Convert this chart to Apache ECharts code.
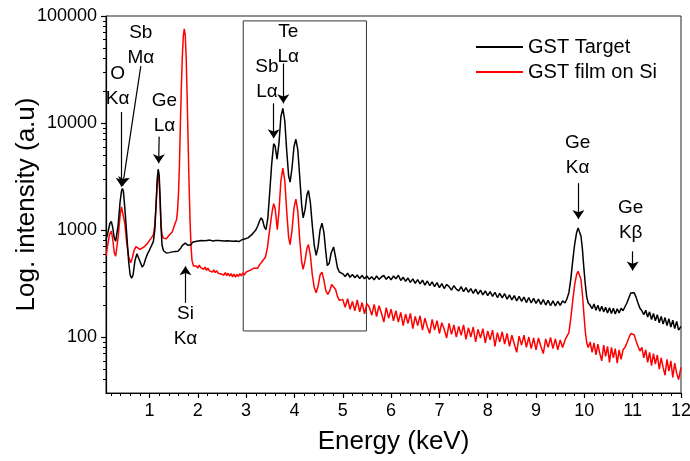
<!DOCTYPE html>
<html>
<head>
<meta charset="utf-8">
<script src="https://cdn.jsdelivr.net/npm/echarts@6/dist/echarts.min.js"></script>
<style>
html,body{margin:0;padding:0;background:#fff}
#chart{width:690px;height:461px}
</style>
</head>
<body>
<div id="chart"></div>
<script>
var FONT = 'Liberation Sans, Arial, sans-serif';

// tick labels
var xTicks = [1, 2, 3, 4, 5, 6, 7, 8, 9, 10, 11, 12];
var yTicks = [100, 1000, 10000, 100000];

// GST Target (black), [keV, counts]
var gstTarget = [
  [0.10,810],[0.14,950],[0.18,1150],[0.21,1205],[0.24,1050],[0.27,850],[0.30,785],[0.35,1100],[0.39,1800],
  [0.42,2300],[0.44,2450],[0.46,2300],[0.49,1600],[0.53,900],[0.57,500],[0.60,380],[0.63,355],[0.66,380],
  [0.70,520],[0.74,600],[0.77,580],[0.81,500],[0.85,450],[0.88,470],[0.92,540],[0.96,600],[1.00,650],
  [1.04,670],[1.08,780],[1.11,1000],[1.14,1900],[1.16,3000],[1.18,3700],[1.20,3300],[1.22,2000],[1.24,1050],
  [1.26,720],[1.29,640],[1.32,620],[1.35,610],[1.38,635],[1.41,615],[1.44,640],[1.47,625],[1.50,650],
  [1.53,630],[1.56,645],[1.59,635],[1.62,660],[1.65,680],[1.68,720],[1.71,735],[1.74,755],[1.77,745],
  [1.80,720],[1.83,705],[1.86,730],[1.89,770],[1.92,795],[1.95,780],[1.98,805],[2.01,790],[2.04,815],
  [2.07,800],[2.10,820],[2.13,795],[2.16,810],[2.19,800],[2.22,825],[2.25,805],[2.28,815],[2.31,790],
  [2.34,810],[2.37,800],[2.40,825],[2.43,800],[2.46,815],[2.49,795],[2.52,810],[2.55,790],[2.58,805],
  [2.61,795],[2.64,810],[2.67,790],[2.70,800],[2.73,785],[2.76,805],[2.79,790],[2.82,800],[2.85,780],
  [2.88,795],[2.91,810],[2.94,800],[2.97,825],[3.00,820],
  [3.04,845],[3.08,880],[3.12,910],[3.16,950],[3.20,1000],[3.24,1090],[3.28,1220],[3.31,1300],[3.34,1240],
  [3.38,1060],[3.41,1010],[3.45,1300],[3.49,2300],[3.53,4200],[3.57,6400],[3.60,6100],[3.64,4600],[3.68,6500],
  [3.72,11500],[3.76,13700],[3.80,10500],[3.84,5500],[3.88,3200],[3.91,2800],[3.95,3800],[3.99,6000],
  [4.03,7050],[4.07,5600],[4.11,3100],[4.15,1700],[4.18,1300],[4.22,1550],[4.26,2150],[4.29,2340],
  [4.33,1800],[4.37,1100],[4.41,720],[4.45,580],[4.49,700],[4.53,1000],[4.57,1160],[4.61,950],[4.65,620],
  [4.68,465],[4.72,490],[4.76,610],[4.81,695],[4.85,560],[4.89,445],[4.93,405],[4.97,395],
  [5.00,390],[5.05,368],[5.10,395],[5.15,362],[5.20,384],[5.25,358],[5.30,380],[5.35,352],[5.40,376],
  [5.45,350],[5.50,372],[5.55,346],[5.60,366],[5.65,342],[5.70,372],[5.75,346],[5.80,364],[5.85,376],
  [5.90,346],[5.95,368],[6.00,342],[6.05,372],[6.10,350],[6.15,378],[6.20,338],[6.25,362],[6.30,332],
  [6.35,356],[6.40,324],[6.45,350],[6.50,318],[6.55,344],[6.60,314],[6.65,340],[6.70,306],[6.75,334],
  [6.80,302],[6.85,328],[6.90,296],[6.95,322],[7.00,290],[7.05,316],[7.10,284],[7.15,310],[7.20,296],
  [7.25,274],[7.30,302],[7.35,280],[7.40,270],[7.45,296],[7.50,266],[7.55,290],[7.60,262],[7.65,284],
  [7.70,256],[7.75,280],[7.80,252],[7.85,274],[7.90,248],[7.95,270],[8.00,244],[8.05,266],[8.10,240],
  [8.15,262],[8.20,234],[8.25,256],[8.30,232],[8.35,254],[8.40,226],[8.45,248],[8.50,222],[8.55,244],
  [8.60,218],[8.65,240],[8.70,216],[8.75,236],[8.80,210],[8.85,234],[8.90,208],[8.95,230],[9.00,206],
  [9.05,226],[9.10,202],[9.15,224],[9.20,199],[9.25,220],[9.30,196],[9.35,218],[9.40,195],[9.45,216],
  [9.50,198],[9.55,218],[9.60,208],
  [9.64,228],[9.68,260],[9.72,350],[9.76,520],[9.80,740],[9.84,950],[9.87,1045],[9.90,1010],[9.93,880],
  [9.96,660],[9.99,440],[10.02,310],[10.05,235],[10.08,208],
  [10.12,198],[10.16,184],[10.20,204],[10.24,178],[10.28,198],[10.32,174],[10.36,194],[10.40,172],
  [10.44,190],[10.48,168],[10.52,188],[10.56,166],[10.60,186],[10.64,164],[10.68,184],[10.72,168],
  [10.76,186],[10.80,176],
  [10.84,192],[10.88,208],[10.92,232],[10.96,258],[10.99,268],[11.03,260],[11.07,236],[11.11,208],
  [11.15,186],[11.19,176],[11.23,162],[11.27,178],[11.31,154],[11.35,172],[11.39,146],[11.43,166],
  [11.47,142],[11.51,162],[11.55,136],[11.59,156],[11.63,132],[11.67,152],[11.71,128],[11.75,148],
  [11.79,124],[11.83,144],[11.87,120],[11.91,140],[11.95,116],[12.00,126]
];

// GST film on Si (red), [keV, counts]
var gstFilm = [
  [0.10,570],[0.13,700],[0.17,900],[0.21,980],[0.24,820],[0.27,620],[0.30,569],[0.35,850],[0.39,1350],
  [0.42,1650],[0.44,1720],[0.46,1600],[0.49,1150],[0.53,750],[0.57,560],[0.61,495],[0.64,540],[0.68,640],
  [0.72,700],[0.76,690],[0.80,660],[0.84,650],[0.88,690],[0.92,720],[0.96,750],[1.00,800],[1.04,845],
  [1.08,900],[1.11,1100],[1.14,1800],[1.16,2700],[1.18,3160],[1.20,2900],[1.22,1800],[1.24,1100],
  [1.26,900],[1.29,840],[1.32,815],[1.35,830],[1.38,860],[1.41,900],[1.44,930],[1.47,960],[1.50,1050],
  [1.53,1150],[1.56,1250],[1.58,1500],[1.60,2200],[1.62,4000],[1.64,10000],[1.66,22000],[1.68,42000],
  [1.70,65000],[1.72,76000],[1.74,66000],[1.76,40000],[1.78,17000],[1.80,6500],[1.82,2600],[1.84,1200],
  [1.86,700],[1.88,520],[1.91,460],[1.94,445],
  [1.97,460],[2.00,440],[2.03,470],[2.06,445],[2.09,455],[2.12,430],[2.15,450],[2.18,420],[2.21,440],
  [2.24,415],[2.27,432],[2.30,405],[2.33,425],[2.36,400],[2.39,418],[2.42,395],[2.45,412],[2.48,388],
  [2.51,405],[2.54,380],[2.57,400],[2.60,375],[2.63,395],[2.66,370],[2.69,392],[2.72,365],[2.75,388],
  [2.78,362],[2.81,385],[2.84,368],[2.87,392],[2.90,372],[2.93,398],[2.96,380],[3.00,405],
  [3.04,395],[3.08,420],[3.12,405],[3.16,440],[3.20,455],[3.24,440],[3.28,475],[3.32,500],[3.36,520],
  [3.40,560],[3.44,680],[3.48,950],[3.51,1200],[3.54,1500],[3.57,1760],[3.60,1600],[3.645,1010],[3.68,1500],
  [3.72,2900],[3.76,3785],[3.80,2900],[3.84,1500],[3.88,850],[3.91,730],[3.95,1000],[3.99,1600],
  [4.03,1946],[4.07,1500],[4.11,800],[4.15,500],[4.18,430],[4.22,520],[4.26,680],[4.29,731],[4.33,580],
  [4.37,380],[4.41,290],[4.45,259],[4.49,300],[4.53,380],[4.57,403],[4.61,340],[4.65,270],[4.69,250],
  [4.73,270],[4.77,310],[4.81,321],[4.85,280],[4.89,240],[4.93,220],[4.97,212],
  [5.00,225],[5.05,190],[5.10,228],[5.15,182],[5.20,215],[5.25,176],[5.30,222],[5.35,172],[5.40,210],
  [5.45,165],[5.50,205],[5.55,190],[5.60,160],[5.65,202],[5.70,155],[5.75,196],[5.80,168],[5.85,138],
  [5.90,188],[5.95,150],[6.00,182],[6.05,142],[6.10,176],[6.15,138],[6.20,170],[6.25,128],[6.30,164],
  [6.35,134],[6.40,166],[6.45,120],[6.50,156],[6.55,128],[6.60,158],[6.65,116],[6.70,150],[6.75,125],
  [6.80,108],[6.85,146],[6.90,116],[6.95,142],[7.00,108],[7.05,136],[7.10,118],[7.15,98],[7.20,134],
  [7.25,106],[7.30,130],[7.35,100],[7.40,126],[7.45,104],[7.50,130],[7.55,95],[7.60,122],[7.65,100],
  [7.70,124],[7.75,90],[7.80,118],[7.85,98],[7.90,120],[7.95,88],[8.00,114],[8.05,94],[8.10,116],
  [8.15,82],[8.20,110],[8.25,90],[8.30,112],[8.35,86],[8.40,108],[8.45,82],[8.50,104],[8.55,86],
  [8.60,72],[8.65,102],[8.70,84],[8.75,104],[8.80,80],[8.85,100],[8.90,78],[8.95,98],[9.00,76],
  [9.05,98],[9.10,82],[9.15,70],[9.20,96],[9.25,80],[9.30,99],[9.35,78],[9.40,96],[9.45,76],
  [9.50,94],[9.55,80],[9.60,94],
  [9.64,97],[9.68,110],[9.72,150],[9.76,220],[9.80,310],[9.84,385],[9.87,412],[9.90,400],[9.93,345],
  [9.96,250],[9.99,165],[10.02,112],[10.05,88],[10.08,80],
  [10.12,90],[10.16,72],[10.20,88],[10.24,68],[10.28,86],[10.32,70],[10.36,60],[10.40,84],[10.44,66],
  [10.48,82],[10.52,58],[10.56,80],[10.60,64],[10.64,78],[10.68,57],[10.72,76],[10.76,62],[10.80,76],
  [10.84,80],[10.88,88],[10.92,98],[10.96,108],[10.99,110],[11.03,105],[11.07,92],[11.11,82],[11.15,74],
  [11.19,80],[11.23,64],[11.27,76],[11.31,58],[11.35,72],[11.39,54],[11.43,70],[11.47,56],[11.51,68],
  [11.55,50],[11.59,64],[11.63,52],[11.67,44],[11.71,62],[11.75,48],[11.79,60],[11.83,42],[11.87,57],
  [11.91,46],[11.95,40],[12.00,52]
];

// peak labels, anchored in data space [keV, counts]
var notes = [
  {name: 'O\nKα', coord: [0.34, 21900]},
  {name: 'Sb\nMα', coord: [0.82, 53000]},
  {name: 'Ge\nLα', coord: [1.31, 12400]},
  {name: 'Si\nKα', coord: [1.745, 127]},
  {name: 'Sb\nLα', coord: [3.43, 25700]},
  {name: 'Te\nLα', coord: [3.87, 54500]},
  {name: 'Ge\nKα', coord: [9.86, 5035]},
  {name: 'Ge\nKβ', coord: [10.96, 1228]}
];
var arrows = [
  [[0.423, 12680], [0.423, 2535]],
  [[0.82, 33970], [0.444, 2590]],
  [[1.20, 7460], [1.19, 4215]],
  [[1.745, 209], [1.745, 458]],
  [[3.57, 15270], [3.57, 7210]],
  [[3.77, 35980], [3.77, 15270]],
  [[9.877, 2740], [9.877, 1268]],
  [[11.0, 632], [11.0, 418]]
];
var boxRange = [[2.94, 114], [5.49, 90000]];

var xMinor = [];
for (var i = 1; i < 60; i++) { if (i % 5 !== 0) xMinor.push(i / 5); }
var yMinor = [40, 50, 60, 70, 80, 90];
[100, 1000, 10000].forEach(function (d) {
  for (var k = 2; k < 10; k++) yMinor.push(k * d);
});

var chart = echarts.init(document.getElementById('chart'));

var baseX = {
  type: 'value', min: 0.1, max: 12, gridIndex: 0, position: 'bottom',
  splitLine: {show: false}
};
var baseY = {
  type: 'log', logBase: 10, min: 30, max: 100000, gridIndex: 0, position: 'left',
  splitLine: {show: false}
};

var option = {
  animation: false,
  backgroundColor: '#fff',
  textStyle: {fontFamily: FONT},
  grid: {
    left: 106, right: 9, top: 16, bottom: 68,
    containLabel: false, outerBoundsMode: 'none',
    show: true, borderColor: '#222', borderWidth: 1
  },
  legend: {
    data: ['GST Target', 'GST film on Si'],
    orient: 'vertical', left: 471, top: 32,
    icon: 'rect', itemWidth: 47, itemHeight: 2, itemGap: 5,
    textStyle: {fontSize: 20, fontFamily: FONT, color: '#000'}
  },
  xAxis: [
    Object.assign({}, baseX, {
      name: 'Energy (keV)', nameLocation: 'middle', nameGap: 36, nameMoveOverlap: false,
      nameTextStyle: {fontSize: 26, fontFamily: FONT, color: '#000'},
      axisLine: {lineStyle: {color: '#000', width: 1.2}},
      axisTick: {customValues: xTicks, length: 5, lineStyle: {color: '#000', width: 1.2}},
      axisLabel: {customValues: xTicks, margin: 9, fontSize: 18, fontFamily: FONT, color: '#000'}
    }),
    Object.assign({}, baseX, {
      axisLine: {show: false},
      axisTick: {customValues: xMinor, length: 3, lineStyle: {color: '#000', width: 1}},
      axisLabel: {show: false}
    })
  ],
  yAxis: [
    Object.assign({}, baseY, {
      name: 'Log. intensity (a.u)', nameLocation: 'middle', nameGap: 66, nameMoveOverlap: false,
      nameTextStyle: {fontSize: 26, fontFamily: FONT, color: '#000'},
      axisLine: {lineStyle: {color: '#000', width: 1.2}},
      axisTick: {customValues: yTicks, length: 5, lineStyle: {color: '#000', width: 1.2}},
      axisLabel: {
        customValues: yTicks, margin: 9, fontSize: 18, fontFamily: FONT, color: '#000',
        formatter: function (v) { return String(Math.round(v)); }
      }
    }),
    Object.assign({}, baseY, {
      axisLine: {show: false},
      axisTick: {customValues: yMinor, length: 3, lineStyle: {color: '#000', width: 1}},
      axisLabel: {show: false}
    })
  ],
  series: [
    {
      name: 'GST film on Si', type: 'line', data: gstFilm,
      xAxisIndex: 0, yAxisIndex: 0,
      showSymbol: false, symbol: 'none',
      lineStyle: {color: '#ff0000', width: 1.5},
      itemStyle: {color: '#ff0000'}
    },
    {
      name: 'GST Target', type: 'line', data: gstTarget,
      xAxisIndex: 0, yAxisIndex: 0,
      showSymbol: false, symbol: 'none',
      lineStyle: {color: '#000', width: 1.5},
      itemStyle: {color: '#000'},
      markArea: {
        silent: true,
        itemStyle: {color: 'rgba(0,0,0,0)', borderColor: '#333', borderWidth: 1},
        data: [[{coord: boxRange[0]}, {coord: boxRange[1]}]]
      },
      markLine: {
        silent: true, symbol: ['none', 'arrow'], symbolSize: 9,
        lineStyle: {color: '#000', width: 1.2, type: 'solid'},
        label: {show: false},
        data: arrows.map(function (a) { return [{coord: a[0]}, {coord: a[1]}]; })
      },
      markPoint: {
        silent: true, symbol: 'circle', symbolSize: 1,
        itemStyle: {color: 'rgba(0,0,0,0)'},
        label: {
          show: true, position: 'inside', fontSize: 19, lineHeight: 25,
          fontFamily: FONT, color: '#000',
          formatter: function (p) { return p.name; }
        },
        data: notes
      }
    }
  ]
};
chart.setOption(option);
</script>
</body>
</html>
